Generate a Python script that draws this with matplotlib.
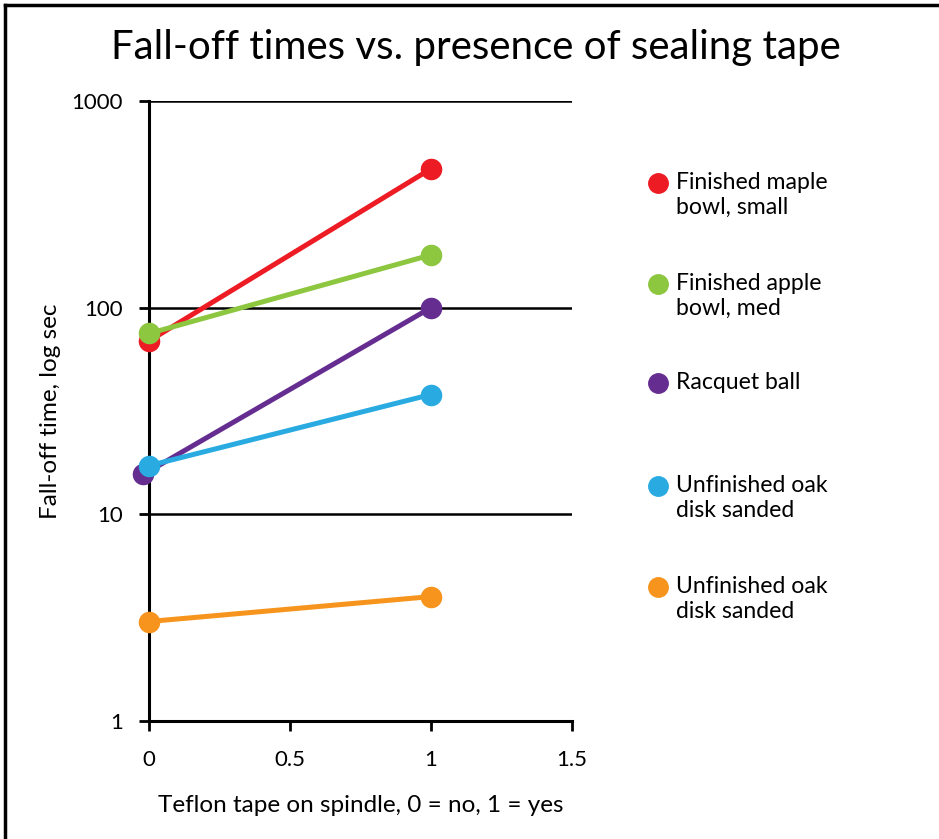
import numpy as np
import matplotlib
matplotlib.use('Agg')
from matplotlib import pyplot as plt
from matplotlib.lines import Line2D

plt.rcParams['font.family'] = ['Lato', 'DejaVu Sans']

# data
series_names = ['Finished maple\nbowl, small', 'Finished apple\nbowl, med', 'Racquet ball',
                'Unfinished oak\ndisk sanded', 'Unfinished oak\ndisk sanded']
series_colors = ['#ED1C24', '#8DC63F', '#662D91', '#29ABE2', '#F7941D']
x_no_tape = [0, 0, -0.02, 0, 0]
x_tape = [1, 1, 1, 1, 1]
time_no_tape = [69, 75, 15.6, 17.2, 3.03]
time_tape = [470, 180, 100, 38, 4.0]
x_ticks = [0, 0.5, 1, 1.5]
x_tick_labels = ['0', '0.5', '1', '1.5']
y_ticks = [1, 10, 100, 1000]

fig = plt.figure(figsize=(9.39, 8.39), dpi=100)
ax = fig.add_axes([149 / 939, 1 - 721 / 839, 423 / 939, 620 / 839])

# later series drawn on top, like in the reference
for i in range(len(series_names)):
    ax.plot([x_no_tape[i], x_tape[i]], [time_no_tape[i], time_tape[i]],
            color=series_colors[i], lw=3.6, marker='o', ms=14.5,
            solid_capstyle='butt', clip_on=False, zorder=3)

ax.set_yscale('log')
ax.set_ylim(1, 1000)
ax.set_xlim(0, 1.5)
ax.set_yticks(y_ticks)
ax.set_yticklabels([str(v) for v in y_ticks])
ax.minorticks_off()
ax.set_xticks(x_ticks)
ax.set_xticklabels(x_tick_labels)
ax.yaxis.grid(True, color='black', lw=1.8)
ax.set_axisbelow(True)
for s in ['top', 'right']:
    ax.spines[s].set_visible(False)
for s in ['left', 'bottom']:
    ax.spines[s].set_linewidth(2.2)
ax.tick_params(axis='both', length=7, width=2, labelsize=16, color='black')
ax.tick_params(axis='y', pad=12)
ax.tick_params(axis='x', pad=14)

ax.set_xlabel('Teflon tape on spindle, 0 = no, 1 = yes', fontsize=17.5, labelpad=18)
ax.set_ylabel('Fall-off time, log sec', fontsize=17.5, labelpad=7)

fig.text(476 / 939, 1 - 48 / 839, 'Fall-off times vs. presence of sealing tape',
         ha='center', va='center', fontsize=29)

# legend built by hand: marker beside the first line of each label
legend_y = [183, 284, 383, 486, 587]
for i in range(len(series_names)):
    yf = 1 - legend_y[i] / 839
    fig.add_artist(Line2D([658 / 939], [yf], marker='o', ms=14, color=series_colors[i],
                          transform=fig.transFigure))
    fig.text(676 / 939, yf + 11 / 839, series_names[i], ha='left', va='top',
             fontsize=16.6, linespacing=1.25)

# frame on top and left edges
fig.add_artist(Line2D([5 / 939, 5 / 939], [0, 1 - 5 / 839], color='black', lw=2.5,
                      transform=fig.transFigure))
fig.add_artist(Line2D([5 / 939, 1], [1 - 5 / 839, 1 - 5 / 839], color='black', lw=2.5,
                      transform=fig.transFigure))

fig.savefig('out.png', dpi=100)
